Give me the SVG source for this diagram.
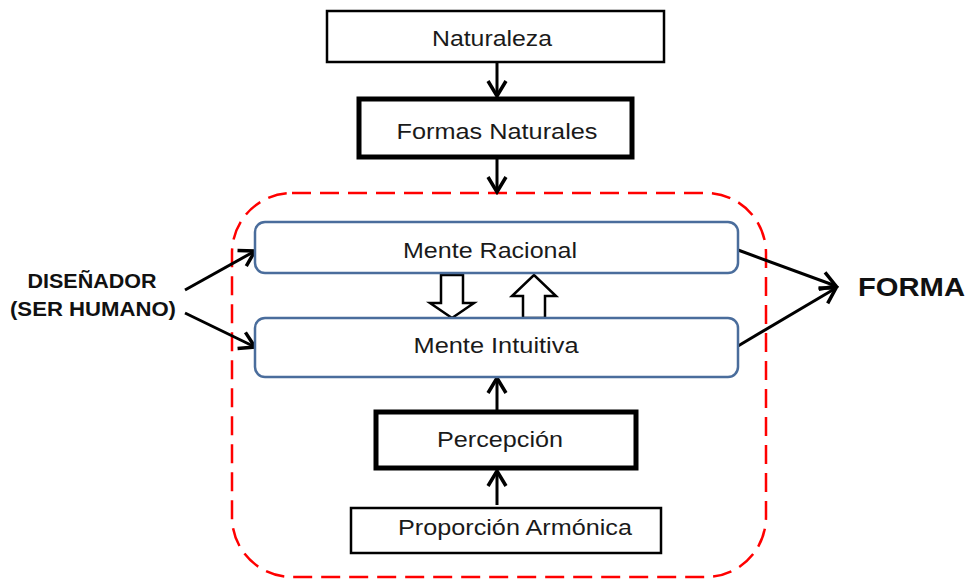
<svg xmlns="http://www.w3.org/2000/svg" width="969" height="580" viewBox="0 0 969 580">
<style>
.lbl{font-family:"Liberation Sans",Arial,sans-serif;font-size:22px;fill:#1a1a1a;text-anchor:middle}
.bold{font-family:"Liberation Sans",Arial,sans-serif;font-weight:bold;fill:#111}
.box{fill:#fff;stroke:#000;stroke-width:2.5}
.thick{fill:#fff;stroke:#000;stroke-width:5}
.mind{fill:#fff;stroke:#4a6d9c;stroke-width:2.5}
.con{stroke:#000;stroke-width:3;fill:none;marker-end:url(#ah)}
.hollow{fill:#fff;stroke:#000;stroke-width:2.5;stroke-linejoin:miter}
</style>
<defs>
<marker id="ah" markerUnits="userSpaceOnUse" viewBox="0 0 22 22" refX="19" refY="11" markerWidth="22" markerHeight="22" orient="auto">
<path d="M4,2 L19,11 L4,20" fill="none" stroke="#000" stroke-width="3.5"/>
</marker>
</defs>
<rect id="frame" x="232" y="193" width="534" height="384" rx="60" fill="none" stroke="#ff0000" stroke-width="2.5" stroke-dasharray="19 9"/>
<g id="connectors">
<line class="con" x1="497" y1="62" x2="497" y2="96"/>
<line class="con" x1="497" y1="158" x2="497" y2="192"/>
<line class="con" x1="185" y1="290" x2="255" y2="251"/>
<line class="con" x1="185" y1="313" x2="255" y2="347"/>
<line class="con" x1="738" y1="250" x2="836" y2="286"/>
<line class="con" x1="738" y1="346" x2="836" y2="288"/>
<line class="con" x1="497" y1="410" x2="497" y2="378"/>
<line class="con" x1="497" y1="505" x2="497" y2="471"/>
<path class="hollow" d="M441,275 H463 V303 H474 L452,318 L430,303 H441 Z"/>
<path class="hollow" d="M523,318 H545 V296 H556 L534,275 L512,296 H523 Z"/>
</g>
<g id="naturaleza">
<rect class="box" x="327" y="11" width="337" height="51"/>
<text class="lbl" x="492" y="46" textLength="120" lengthAdjust="spacingAndGlyphs">Naturaleza</text>
</g>
<g id="formas-naturales">
<rect class="thick" x="359" y="99" width="273" height="58"/>
<text class="lbl" x="497" y="139" textLength="201" lengthAdjust="spacingAndGlyphs">Formas Naturales</text>
</g>
<g id="mente-racional">
<rect class="mind" x="255" y="222" width="483" height="51" rx="10"/>
<text class="lbl" x="490" y="258" textLength="174" lengthAdjust="spacingAndGlyphs">Mente Racional</text>
</g>
<g id="mente-intuitiva">
<rect class="mind" x="255" y="318" width="483" height="59" rx="10"/>
<text class="lbl" x="496" y="353" textLength="165" lengthAdjust="spacingAndGlyphs">Mente Intuitiva</text>
</g>
<g id="percepcion">
<rect class="thick" x="376" y="412" width="260" height="56"/>
<text class="lbl" x="500" y="447" textLength="126" lengthAdjust="spacingAndGlyphs">Percepción</text>
</g>
<g id="proporcion">
<rect class="box" x="351" y="508" width="310" height="45"/>
<text class="lbl" x="515" y="535" textLength="234" lengthAdjust="spacingAndGlyphs">Proporción Armónica</text>
</g>
<g id="disenador">
<text class="bold" x="92" y="288" font-size="21" text-anchor="middle" textLength="129" lengthAdjust="spacingAndGlyphs">DISEÑADOR</text>
<text class="bold" x="93" y="316" font-size="21" text-anchor="middle" textLength="166" lengthAdjust="spacingAndGlyphs">(SER HUMANO)</text>
</g>
<g id="forma">
<text class="bold" x="858" y="296" font-size="25" textLength="107" lengthAdjust="spacingAndGlyphs">FORMA</text>
</g>
</svg>
